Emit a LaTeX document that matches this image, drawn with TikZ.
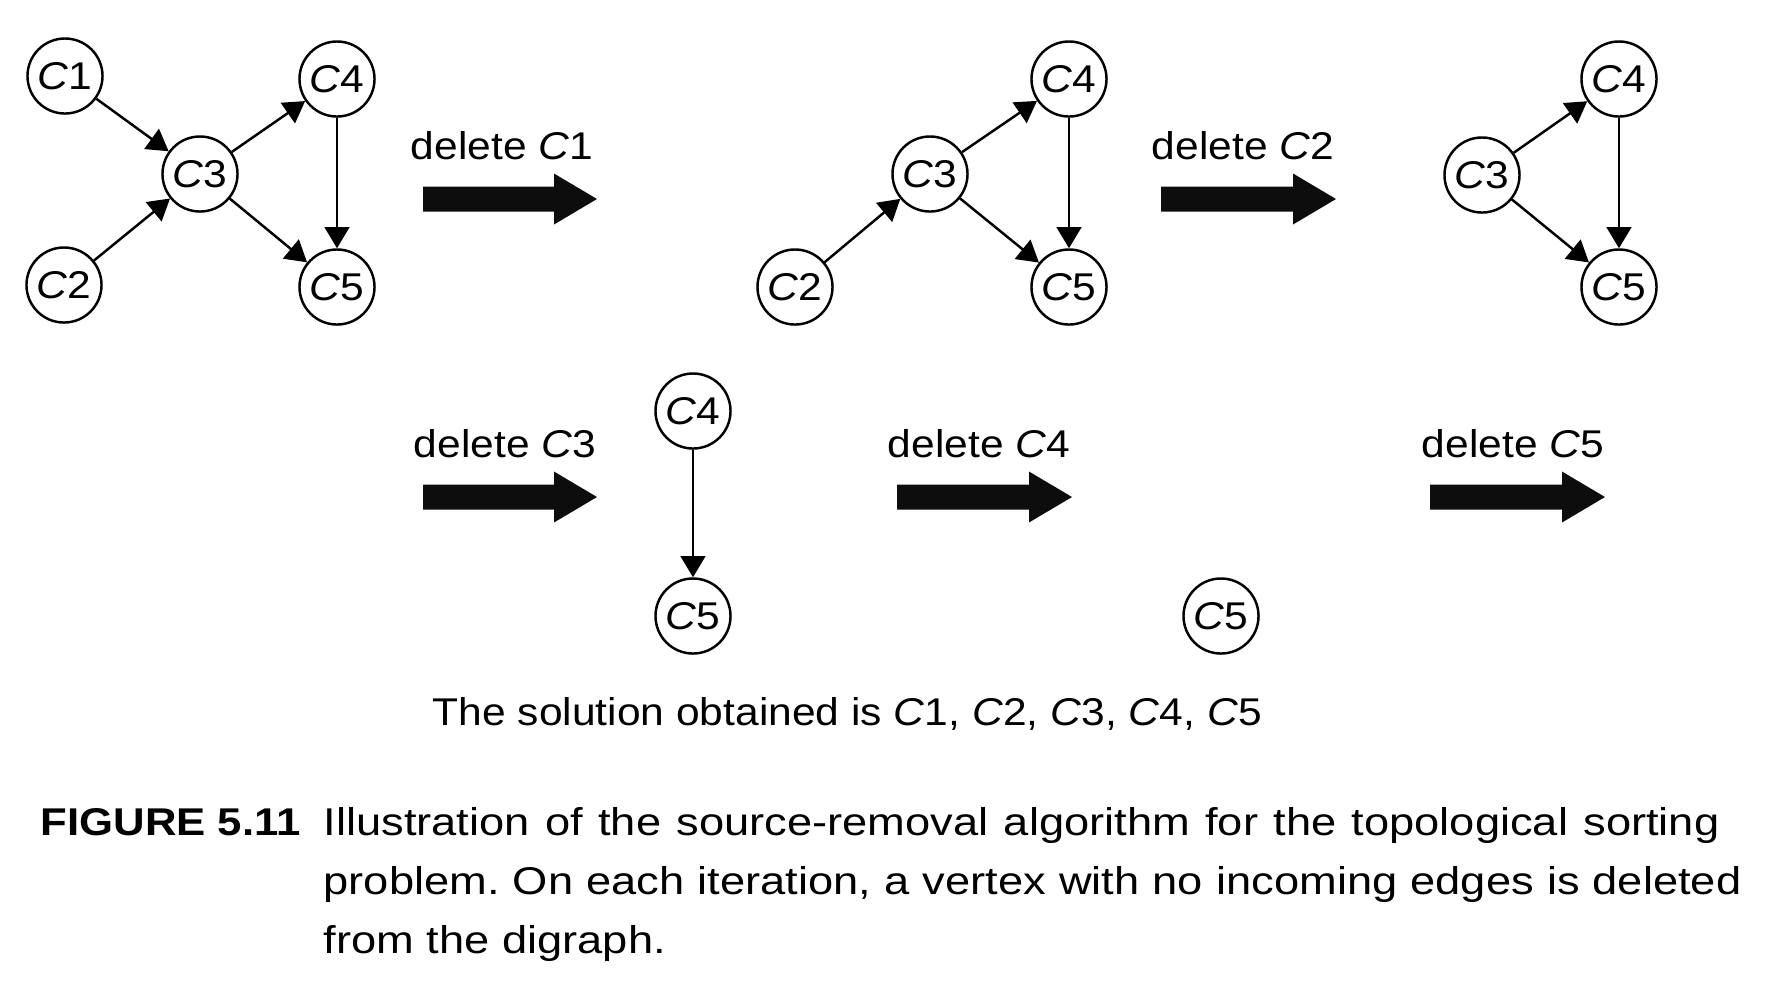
\documentclass[tikz,border=0pt]{standalone}
\usepackage{fontspec}
\setmainfont[FakeStretch=1.1]{Liberation Sans}
\newfontfamily\capfont[FakeStretch=1.17]{Liberation Sans}
\newfontfamily\figfont[FakeStretch=1.13]{Liberation Sans}
\usetikzlibrary{arrows.meta}
\tikzset{
  vtx/.style={circle,draw,line width=0.7pt,minimum size=0.75cm,inner sep=0pt,font=\fontsize{11}{13}\selectfont},
  edge/.style={-{Triangle[length=6pt,width=7pt]},line width=0.7pt},
  lbl/.style={anchor=base,inner sep=0pt,font=\fontsize{11}{14}\selectfont},
  captxt/.style={anchor=base west,inner sep=0pt,font=\fontsize{11}{13}\selectfont},
  figcap/.style={anchor=base west,inner sep=0pt,font=\fontsize{11}{13}\capfont\frenchspacing},
  figlabel/.style={anchor=base west,inner sep=0pt,font=\fontsize{11}{13}\figfont\bfseries},
  bigarr/.style={fill=black!95},
}
\newcommand\Cn[1]{\textit{C}#1}
\newcommand\blockarrow[3]{%
  \fill[bigarr] (#1,#2-12.5) -- (#3-43,#2-12.5) -- (#3-43,#2-25.5) -- (#3,#2)
    -- (#3-43,#2+25.5) -- (#3-43,#2+12.5) -- (#1,#2+12.5) -- cycle;}
\begin{document}
\begin{tikzpicture}[x=0.01cm,y=-0.01cm]
\useasboundingbox (0,0) rectangle (1790,1002);
% graph 1
\node[vtx] (a1) at (65,76) {\Cn1};
\node[vtx] (a2) at (64,285) {\Cn2};
\node[vtx] (a3) at (200,174) {\Cn3};
\node[vtx] (a4) at (337,79) {\Cn4};
\node[vtx] (a5) at (337,287) {\Cn5};
\draw[edge] (a1) -- (a3);
\draw[edge] (a2) -- (a3);
\draw[edge] (a3) -- (a4);
\draw[edge] (a3) -- (a5);
\draw[edge] (a4) -- (a5);
\node[lbl] (l1) at (502,159) {delete \Cn1};
\blockarrow{423}{199}{597}
% graph 2
\node[vtx] (b2) at (795,287) {\Cn2};
\node[vtx] (b3) at (930,174) {\Cn3};
\node[vtx] (b4) at (1069,79) {\Cn4};
\node[vtx] (b5) at (1069,287) {\Cn5};
\draw[edge] (b2) -- (b3);
\draw[edge] (b3) -- (b4);
\draw[edge] (b3) -- (b5);
\draw[edge] (b4) -- (b5);
\node[lbl] (l2) at (1243,159) {delete \Cn2};
\blockarrow{1161}{199}{1336}
% graph 3
\node[vtx] (c3) at (1482,175) {\Cn3};
\node[vtx] (c4) at (1619,79) {\Cn4};
\node[vtx] (c5) at (1619,287) {\Cn5};
\draw[edge] (c3) -- (c4);
\draw[edge] (c3) -- (c5);
\draw[edge] (c4) -- (c5);
% row 2
\node[lbl] (l3) at (505,457) {delete \Cn3};
\blockarrow{423}{497}{597}
\node[vtx] (d4) at (693,411) {\Cn4};
\node[vtx] (d5) at (693,616) {\Cn5};
\draw[edge] (d4) -- (d5);
\node[lbl] (l4) at (979,457) {delete \Cn4};
\blockarrow{897}{497}{1072}
\node[vtx] (e5) at (1221,616) {\Cn5};
\node[lbl] (l5) at (1513,457) {delete \Cn5};
\blockarrow{1430}{497}{1605}
% solution
\node[captxt] (sol) at (432,725) {The solution obtained is \Cn1, \Cn2, \Cn3, \Cn4, \Cn5};
% caption
\node[figlabel] (fig) at (40,835) {FIGURE 5.11};
\node[figcap] (cap1) at (323,835) {\makebox[13.95cm][s]{Illustration of the source-removal algorithm for the topological sorting}};
\node[figcap] (cap2) at (323,894) {\makebox[14.17cm][s]{problem. On each iteration, a vertex with no incoming edges is deleted}};
\node[figcap] (cap3) at (323,953) {from the digraph.};
\end{tikzpicture}
\end{document}
